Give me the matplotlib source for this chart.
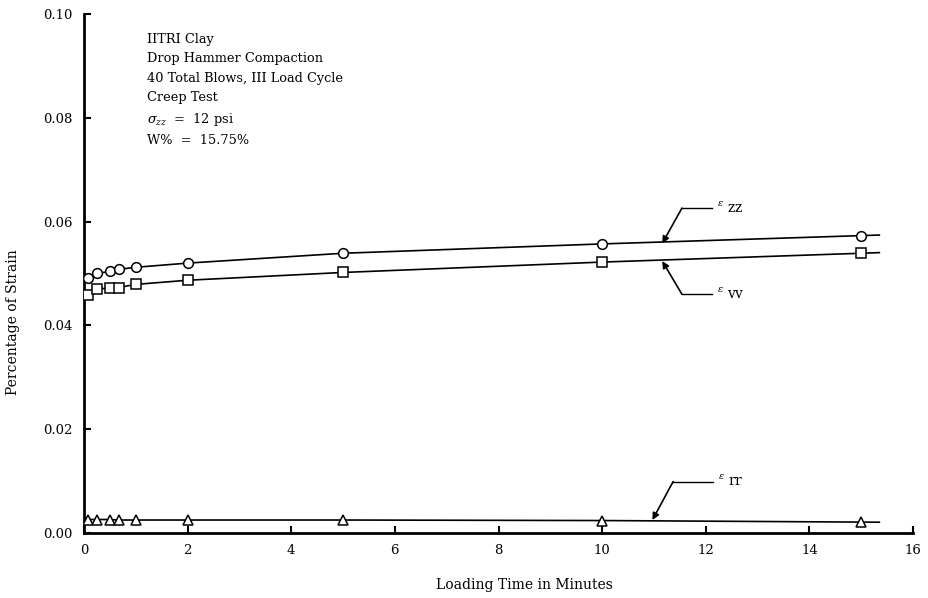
import numpy as np
import matplotlib
matplotlib.use("Agg")
import matplotlib.pyplot as plt

# ---- data ----
time_min = [0.08, 0.25, 0.5, 0.67, 1.0, 2.0, 5.0, 10.0, 15.0]
eps_zz = [0.0491, 0.0500, 0.0504, 0.0508, 0.0512, 0.0520, 0.0539, 0.0557, 0.0573]
eps_vv = [0.0458, 0.0470, 0.0472, 0.0473, 0.0479, 0.0487, 0.0502, 0.0522, 0.0539]
eps_rr = [0.0026, 0.0026, 0.0026, 0.0025, 0.0025, 0.0025, 0.0025, 0.0024, 0.0021]

x_ticks = [0, 2, 4, 6, 8, 10, 12, 14, 16]
y_ticks = [0.00, 0.02, 0.04, 0.06, 0.08, 0.10]
y_tick_labels = ["0.00", "0.02", "0.04", "0.06", "0.08", "0.10"]

info_lines = ["IITRI Clay", "Drop Hammer Compaction", "40 Total Blows, III Load Cycle",
              "Creep Test", r"$\sigma_{zz}$  =  12 psi", "W%  =  15.75%"]

SERIF = ["DejaVu Serif"]
plt.rcParams["font.family"] = SERIF
plt.rcParams["mathtext.fontset"] = "dejavuserif"

fig = plt.figure(figsize=(9.29, 5.98), dpi=100)
ax = fig.add_axes([0.0904, 0.1087, 0.8924, 0.8679])

def draw(y, marker):
    xs = np.array(time_min)
    ys = np.array(y)
    # short tail beyond the last point, as in the hand drawn original
    slope = (ys[-1] - ys[-2]) / (xs[-1] - xs[-2])
    tail_x = xs[-1] + 0.35
    tail_y = ys[-1] + slope * 0.35
    ax.plot(np.append(xs, tail_x), np.append(ys, tail_y), color="black", lw=1.2, zorder=2)
    ax.plot(xs, ys, linestyle="none", marker=marker, ms=7, mfc="white",
            mec="black", mew=1.1, zorder=3)

draw(eps_zz, "o")
draw(eps_vv, "s")
draw(eps_rr, "^")

ax.set_xlim(0, 16)
ax.set_ylim(0, 0.10)
ax.set_xticks(x_ticks)
ax.set_yticks(y_ticks)
ax.set_yticklabels(y_tick_labels)
for s in ["top", "right"]:
    ax.spines[s].set_visible(False)
for s in ["left", "bottom"]:
    ax.spines[s].set_linewidth(2.0)
ax.tick_params(direction="in", length=5, width=1.5, labelsize=9.5, pad=8)

fig.text(524 / 929, 1 - 585 / 598, "Loading Time in Minutes", fontsize=10,
         ha="center", va="center")
fig.text(13 / 929, 1 - 322 / 598, "Percentage of Strain", fontsize=10,
         ha="center", va="center", rotation=90)

# info text block
ax.text(1.22, 0.0963, "\n".join(info_lines), fontsize=9.3, va="top", ha="left",
        linespacing=1.62)

# leader annotations
def leader(tip, bend, end, label):
    ax.plot([bend[0], end[0]], [bend[1], end[1]], color="black", lw=1.0)
    ax.annotate("", xy=tip, xytext=bend,
                arrowprops=dict(arrowstyle="-|>", color="black", lw=1.2,
                                mutation_scale=10, shrinkA=0, shrinkB=0))
    ax.text(end[0] + 0.1, end[1], label, fontsize=10, va="center", ha="left")

leader((11.16, 0.0558), (11.54, 0.0626), (12.12, 0.0626), r"$^{\epsilon}\ \mathrm{zz}$")
leader((11.16, 0.0524), (11.54, 0.0460), (12.12, 0.0460), r"$^{\epsilon}\ \mathrm{vv}$")
leader((10.97, 0.0025), (11.37, 0.0099), (12.14, 0.0099), r"$^{\epsilon}\ \mathrm{rr}$")

fig.savefig("out.png", dpi=100)
